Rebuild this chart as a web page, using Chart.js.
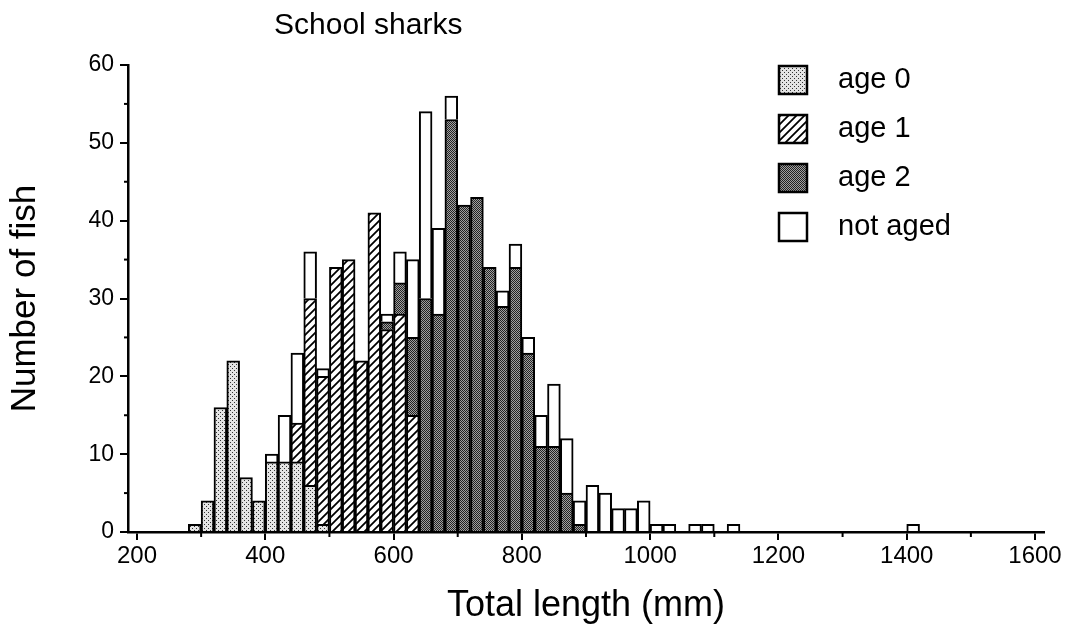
<!DOCTYPE html>
<html>
<head>
<meta charset="utf-8">
<script src="https://cdn.jsdelivr.net/npm/chart.js@4.4.1/dist/chart.umd.min.js"></script>
<style>
  html, body { margin: 0; padding: 0; background: #fff; }
  #wrap { width: 1067px; height: 628px; position: relative; }
</style>
</head>
<body>
<div id="wrap"><canvas id="chart" width="1067" height="628"></canvas></div>
<script>
// bin start (mm), 20 mm wide bins
const binStarts = [
  280, 300, 320, 340, 360, 380, 400, 420, 440, 460,
  480, 500, 520, 540, 560, 580, 600, 620, 640, 660,
  680, 700, 720, 740, 760, 780, 800, 820, 840, 860,
  880, 900, 920, 940, 960, 980, 1000, 1020, 1040, 1060,
  1080, 1100, 1120, 1140, 1160, 1180, 1200, 1220, 1240, 1260,
  1280, 1300, 1320, 1340, 1360, 1380, 1400
];
const age0 = [
  1, 4, 16, 22, 7, 4, 9, 9, 9, 6,
  1, 0, 0, 0, 0, 0, 0, 0, 0, 0,
  0, 0, 0, 0, 0, 0, 0, 0, 0, 0,
  0, 0, 0, 0, 0, 0, 0, 0, 0, 0,
  0, 0, 0, 0, 0, 0, 0, 0, 0, 0,
  0, 0, 0, 0, 0, 0, 0
];
const age1 = [
  0, 0, 0, 0, 0, 0, 0, 0, 5, 24,
  19, 34, 35, 22, 41, 26, 28, 15, 0, 0,
  0, 0, 0, 0, 0, 0, 0, 0, 0, 0,
  0, 0, 0, 0, 0, 0, 0, 0, 0, 0,
  0, 0, 0, 0, 0, 0, 0, 0, 0, 0,
  0, 0, 0, 0, 0, 0, 0
];
const age2 = [
  0, 0, 0, 0, 0, 0, 0, 0, 0, 0,
  0, 0, 0, 0, 0, 1, 4, 10, 30, 28,
  53, 42, 43, 34, 29, 34, 23, 11, 11, 5,
  1, 0, 0, 0, 0, 0, 0, 0, 0, 0,
  0, 0, 0, 0, 0, 0, 0, 0, 0, 0,
  0, 0, 0, 0, 0, 0, 0
];
const notAged = [
  0, 0, 0, 0, 0, 0, 1, 6, 9, 6,
  1, 0, 0, 0, 0, 1, 4, 10, 24, 11,
  3, 0, 0, 0, 2, 3, 2, 4, 8, 7,
  3, 6, 5, 3, 3, 4, 1, 1, 0, 1,
  1, 0, 1, 0, 0, 0, 0, 0, 0, 0,
  0, 0, 0, 0, 0, 0, 1
];
const seriesNames = ['age 0', 'age 1', 'age 2', 'not aged'];
const xTicks = [200, 400, 600, 800, 1000, 1200, 1400, 1600];
const xMinor = [300, 500, 700, 900, 1100, 1300, 1500];
const yTicks = [0, 10, 20, 30, 40, 50, 60];
const yMinor = [5, 15, 25, 35, 45, 55];
const binWidth = 20;

const FONT = '"Liberation Sans", Arial, Helvetica, sans-serif';

function makePattern(kind) {
    const c = document.createElement('canvas');
    const g = c.getContext('2d');
    if (kind === 'dots') {
        c.width = 4; c.height = 4;
        g.fillStyle = '#e4e4e4'; g.fillRect(0, 0, 4, 4);
        g.fillStyle = '#333';
        g.fillRect(0, 0, 1, 1); g.fillRect(2, 2, 1, 1);
    } else if (kind === 'hatch') {
        c.width = 8; c.height = 8;
        g.fillStyle = '#fff'; g.fillRect(0, 0, 8, 8);
        g.strokeStyle = '#000'; g.lineWidth = 1.8;
        g.beginPath();
        g.moveTo(-2, 2); g.lineTo(2, -2);
        g.moveTo(0, 8); g.lineTo(8, 0);
        g.moveTo(6, 10); g.lineTo(10, 6);
        g.stroke();
    } else if (kind === 'dark') {
        c.width = 2; c.height = 2;
        g.fillStyle = '#222'; g.fillRect(0, 0, 2, 2);
        g.fillStyle = '#a0a0a0';
        g.fillRect(0, 1, 1, 1); g.fillRect(1, 0, 1, 1);
    } else {
        c.width = 2; c.height = 2;
        g.fillStyle = '#fff'; g.fillRect(0, 0, 2, 2);
    }
    return g.createPattern(c, 'repeat');
}

const fills = [makePattern('dots'), makePattern('hatch'), makePattern('dark'), makePattern('white')];
const counts = [age0, age1, age2, notAged];

function toPoints(arr) {
    return binStarts.map((b, i) => ({ x: b + binWidth / 2, y: arr[i] === 0 ? null : arr[i] }));
}

const datasets = counts.map((arr, k) => ({
    label: seriesNames[k],
    data: toPoints(arr),
    backgroundColor: fills[k],
    borderColor: '#000',
    borderWidth: 2,
    borderSkipped: 'start',
    barPercentage: 1.0,
    categoryPercentage: 1.0,
}));

const extras = {
    id: 'extras',
    afterDraw(chart) {
        const { ctx, scales: { x, y } } = chart;
        ctx.save();
        ctx.strokeStyle = '#000';
        ctx.lineWidth = 2;
        xMinor.forEach(v => {
            const px = x.getPixelForValue(v);
            ctx.beginPath(); ctx.moveTo(px, x.top); ctx.lineTo(px, x.top + 5); ctx.stroke();
        });
        yMinor.forEach(v => {
            const py = y.getPixelForValue(v);
            ctx.beginPath(); ctx.moveTo(y.right, py); ctx.lineTo(y.right - 4, py); ctx.stroke();
        });

        // title
        ctx.fillStyle = '#000';
        ctx.font = '30px ' + FONT;
        ctx.textAlign = 'left';
        ctx.textBaseline = 'middle';
        ctx.fillText('School sharks', 274, 26);

        // legend
        const boxX = 779, boxSize = 28, rowTop = 66, rowGap = 49;
        ctx.font = '29px ' + FONT;
        seriesNames.forEach((name, k) => {
            const top = rowTop + k * rowGap;
            ctx.fillStyle = fills[k];
            ctx.fillRect(boxX, top, boxSize, boxSize);
            ctx.lineWidth = 2.5;
            ctx.strokeStyle = '#000';
            ctx.strokeRect(boxX, top, boxSize, boxSize);
            ctx.fillStyle = '#000';
            ctx.fillText(name, 838, top + boxSize / 2);
        });
        ctx.restore();
    }
};

Chart.defaults.font.family = FONT;
Chart.defaults.color = '#000';

new Chart(document.getElementById('chart').getContext('2d'), {
    type: 'bar',
    data: { datasets },
    options: {
        responsive: false,
        animation: false,
        layout: { padding: { left: 0, top: 65, right: 23, bottom: 0 } },
        plugins: { legend: { display: false }, tooltip: { enabled: false } },
        scales: {
            x: {
                type: 'linear',
                stacked: true,
                offset: false,
                min: 186, max: 1614,
                afterBuildTicks: s => { s.ticks = xTicks.map(v => ({ value: v })); },
                afterFit: s => { s.height = 96; },
                grid: { display: true, offset: false, drawOnChartArea: false, drawTicks: true, tickLength: 8, color: '#000', lineWidth: 2 },
                border: { display: true, color: '#000', width: 2.5 },
                ticks: { font: { size: 24 }, padding: 2, maxRotation: 0, autoSkip: false, callback: v => String(v) },
                title: { display: true, text: 'Total length (mm)', font: { size: 36 }, padding: { top: 2, bottom: 0 } },
            },
            y: {
                stacked: true,
                min: 0, max: 60,
                afterBuildTicks: s => { s.ticks = yTicks.map(v => ({ value: v })); },
                afterFit: s => { s.width = 128; },
                grid: { display: true, drawOnChartArea: false, drawTicks: true, tickLength: 8, color: '#000', lineWidth: 2 },
                border: { display: true, color: '#000', width: 2.5 },
                ticks: { font: { size: 23 }, padding: 6, callback: v => String(v) },
                title: { display: true, text: 'Number of fish', font: { size: 35 }, padding: { top: 4, bottom: 0 } },
            }
        }
    },
    plugins: [extras]
});
</script>
</body>
</html>
